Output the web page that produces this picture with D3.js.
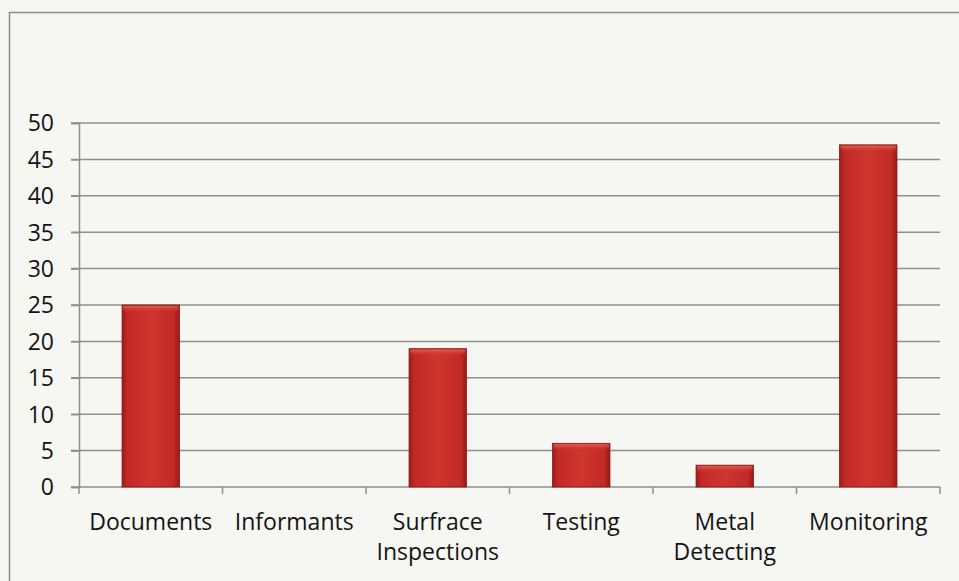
<!DOCTYPE html>
<html>
<head>
<meta charset="utf-8">
<script src="https://cdn.jsdelivr.net/npm/d3@7"></script>
<style>
  html, body { margin: 0; padding: 0; background: #f6f6f3; }
  svg { display: block; }
  text { font-family: "Open Sans", Lato, "Noto Sans", sans-serif; fill: #141414; }
</style>
</head>
<body>
<svg id="chart" width="959" height="581"></svg>
<script>
// Number of cases by method of identification
const categories = ["Documents", "Informants", "Surfrace Inspections", "Testing", "Metal Detecting", "Monitoring"];
const categoryLines = [["Documents"], ["Informants"], ["Surfrace", "Inspections"], ["Testing"], ["Metal", "Detecting"], ["Monitoring"]];
const values = [25, 0, 19, 6, 3, 47];
const yTicks = [0, 5, 10, 15, 20, 25, 30, 35, 40, 45, 50];

const svg = d3.select("#chart");
const W = 959, H = 581;
const plot = { left: 79, right: 940, top: 123, bottom: 487 };
const FONT = "'Open Sans', Lato, sans-serif";

// Outer chart frame (runs off the right and bottom edges)
svg.append("path")
  .attr("d", `M9.5,${H + 2} V12.5 H${W + 2}`)
  .attr("fill", "none")
  .attr("stroke", "#8c8c88")
  .attr("stroke-width", 1.5);

const x = d3.scaleBand().domain(categories).range([plot.left, plot.right]).paddingInner(0).paddingOuter(0);
const y = d3.scaleLinear().domain([0, 50]).range([plot.bottom, plot.top]);

// Bar fill: red cylinder-like shading
const defs = svg.append("defs");
const grad = defs.append("linearGradient").attr("id", "barFill").attr("x1", 0).attr("x2", 1).attr("y1", 0).attr("y2", 0);
grad.append("stop").attr("offset", "0%").attr("stop-color", "#a01a1a");
grad.append("stop").attr("offset", "10%").attr("stop-color", "#c22a27");
grad.append("stop").attr("offset", "50%").attr("stop-color", "#cf352f");
grad.append("stop").attr("offset", "90%").attr("stop-color", "#c22a27");
grad.append("stop").attr("offset", "100%").attr("stop-color", "#981818");
const topGrad = defs.append("linearGradient").attr("id", "barTop").attr("x1", 0).attr("x2", 0).attr("y1", 0).attr("y2", 1);
topGrad.append("stop").attr("offset", "0%").attr("stop-color", "#e46656").attr("stop-opacity", 0.9);
topGrad.append("stop").attr("offset", "100%").attr("stop-color", "#cf352f").attr("stop-opacity", 0);

// Horizontal gridlines with left tick marks
svg.append("g")
  .selectAll("line")
  .data(yTicks.filter(d => d > 0))
  .join("line")
  .attr("x1", plot.left - 8)
  .attr("x2", plot.right)
  .attr("y1", d => y(d))
  .attr("y2", d => y(d))
  .attr("stroke", "#8f8f8b")
  .attr("stroke-width", 1.5);

// Y axis
const yAxis = svg.append("g")
  .attr("transform", `translate(${plot.left},0)`)
  .call(d3.axisLeft(y).tickValues(yTicks).tickSize(8).tickPadding(17));
yAxis.select(".domain").attr("stroke", "#8f8f8b").attr("stroke-width", 1.5);
yAxis.selectAll(".tick line").attr("stroke", "#8f8f8b").attr("stroke-width", 1.5);
yAxis.selectAll(".tick text").attr("font-size", 23).attr("fill", "#141414")
  .attr("dy", "0.34em")
  .style("font-family", FONT);

// X axis baseline with ticks between categories
const xAxis = svg.append("g").attr("transform", `translate(0,${plot.bottom})`);
xAxis.append("line")
  .attr("x1", plot.left - 8).attr("x2", plot.right)
  .attr("stroke", "#8f8f8b").attr("stroke-width", 1.5);
const bounds = categories.map(c => x(c)).concat([x(categories[categories.length - 1]) + x.bandwidth()]);
xAxis.selectAll("line.tick")
  .data(bounds)
  .join("line")
  .attr("class", "tick")
  .attr("x1", d => d).attr("x2", d => d)
  .attr("y1", 0).attr("y2", 7)
  .attr("stroke", "#8f8f8b").attr("stroke-width", 1.5);

// Category labels
const barW = x.bandwidth() * 0.4;
const labels = svg.append("g");
categories.forEach((c, i) => {
  const cx = x(c) + x.bandwidth() / 2;
  const t = labels.append("text")
    .attr("x", cx)
    .attr("y", 530)
    .attr("text-anchor", "middle")
    .attr("font-size", 23)
    .style("font-family", FONT);
  categoryLines[i].forEach((ln, j) => {
    t.append("tspan").attr("x", cx).attr("dy", j === 0 ? 0 : 30).text(ln);
  });
});

// Bars
const bars = svg.append("g");
categories.forEach((c, i) => {
  const v = values[i];
  if (v <= 0) return;
  const bx = x(c) + (x.bandwidth() - barW) / 2;
  const by = y(v);
  const bh = y(0) - y(v);
  bars.append("rect")
    .attr("x", bx).attr("y", by).attr("width", barW).attr("height", bh)
    .attr("fill", "url(#barFill)")
    .attr("stroke", "#8a1515").attr("stroke-width", 0.8);
  bars.append("rect")
    .attr("x", bx + 1).attr("y", by + 1).attr("width", barW - 2).attr("height", Math.min(6, bh - 2))
    .attr("fill", "url(#barTop)");
});
</script>
</body>
</html>
